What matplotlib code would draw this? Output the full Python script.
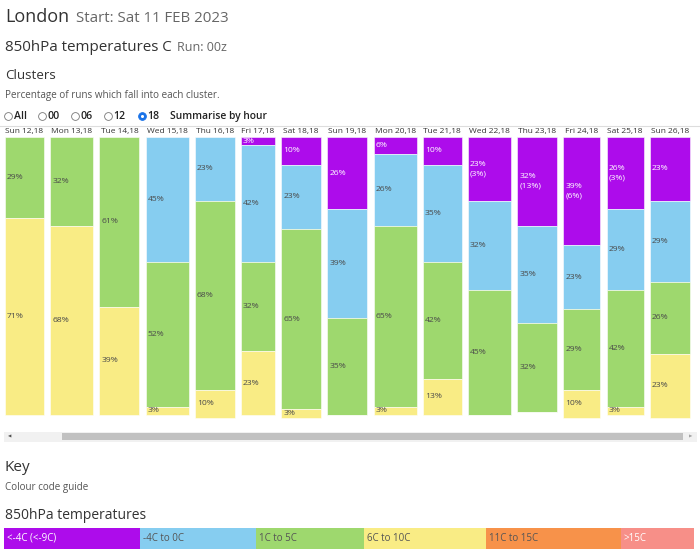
import numpy as np
import matplotlib.pyplot as plt
from matplotlib.patches import Rectangle
from matplotlib.lines import Line2D

plt.rcParams['font.family'] = ['Open Sans', 'DejaVu Sans']

# data
days = ["Sun 12,18", "Mon 13,18", "Tue 14,18", "Wed 15,18", "Thu 16,18",
        "Fri 17,18", "Sat 18,18", "Sun 19,18", "Mon 20,18", "Tue 21,18",
        "Wed 22,18", "Thu 23,18", "Fri 24,18", "Sat 25,18", "Sun 26,18"]
purple = [0, 0, 0, 0, 0, 3, 10, 26, 6, 10, 23, 32, 39, 26, 23]
purple_cold = [0, 0, 0, 0, 0, 0, 0, 0, 0, 0, 3, 13, 6, 3, 0]   # the (<-9C) share
blue = [0, 0, 0, 45, 23, 42, 23, 39, 26, 35, 32, 35, 23, 29, 29]
green = [29, 32, 61, 52, 68, 32, 65, 35, 65, 42, 45, 32, 29, 42, 26]
yellow = [71, 68, 39, 3, 10, 23, 3, 0, 3, 13, 0, 0, 10, 3, 23]

key_labels = ["<-4C (<-9C)", "-4C to 0C", "1C to 5C", "6C to 10C", "11C to 15C", ">15C"]
key_colors = ["#ad0ceb", "#86cdf0", "#9ed86e", "#f9ec85", "#f7924a", "#f78f88"]
key_text = ["white", "#555555", "#555555", "#555555", "#555555", "white"]

# layout (pixels)
W, H = 700, 555
col_widths = [39, 43, 40, 43, 40, 34, 40, 40, 43, 39, 43, 40, 37, 37, 40]
col_gap = 6.2
key_widths = [136, 116, 108, 122, 135, 73]
px_per_pct = 2.78
bar_top = 137


def fx(x):
    return x / W


def fy(y):
    return 1 - y / H


fig = plt.figure(figsize=(7, 5.55), dpi=100)


def label(x, y, s, size, color="#333333", **kw):
    fig.text(fx(x), fy(y), s, fontsize=size, color=color, va="baseline", ha="left", **kw)


# header
label(5, 22, "London", 13)
label(76, 22, "Start: Sat 11 FEB 2023", 10.8, color="#666666")
label(5, 51, "850hPa temperatures C", 10.9)
label(177, 51, "Run: 00z", 9, color="#666666")
label(5, 79, "Clusters", 9.6)
label(5, 98, "Percentage of runs which fall into each cluster.", 7.1, color="#555555")

# radio buttons
radios = ["All", "00", "06", "12", "18"]
radio_x = [8, 42, 75, 108, 142]
for r, x in zip(radios, radio_x):
    sel = r == "18"
    fig.add_artist(Line2D([fx(x)], [fy(116)], marker="o", markersize=5.6,
                          markerfacecolor="#1a73e8" if sel else "white",
                          markeredgecolor="#1a73e8" if sel else "#777777",
                          markeredgewidth=0.6, linestyle="none"))
    if sel:
        fig.add_artist(Line2D([fx(x)], [fy(116)], marker="o", markersize=2.2,
                              markerfacecolor="white", markeredgecolor="none",
                              linestyle="none"))
    label(x + 5.5, 119, r, 7.6, color="#222222", fontweight="semibold")
label(170, 119, "Summarise by hour", 7.4, color="#222222", fontweight="semibold")

fig.add_artist(Line2D([fx(0), fx(700)], [fy(126), fy(126)], color="#dddddd", lw=0.8,
                      zorder=-1))

# bar chart
bottom_px = 425
ax = fig.add_axes([0, fy(bottom_px), 1, (bottom_px - bar_top) / H])
ax.set_xlim(0, W)
ax.set_ylim((bottom_px - bar_top) / px_per_pct, 0)
ax.axis("off")

widths = np.array(col_widths, dtype=float)
lefts = 5 + np.concatenate([[0], np.cumsum(widths[:-1] + col_gap)])

series = [(purple, key_colors[0], "white"),
          (blue, key_colors[1], "#4a4a4a"),
          (green, key_colors[2], "#4a4a4a"),
          (yellow, key_colors[3], "#4a4a4a")]

start = np.zeros(len(days))
for vals, col, tcol in series:
    vals = np.array(vals, dtype=float)
    ax.bar(lefts, vals, width=widths, bottom=start, align="edge", color=col,
           edgecolor=(1, 1, 1, 0.55), linewidth=0.7)
    for i, v in enumerate(vals):
        if v <= 0:
            continue
        txt = f"{int(v)}%"
        if col == key_colors[0] and purple_cold[i] > 0:
            txt += f"\n({purple_cold[i]}%)"
        ax.text(lefts[i] + 2, start[i] + v / 2, txt, fontsize=6.1, color=tcol,
                va="center", ha="left", linespacing=1.5)
    start += vals

for i, d in enumerate(days):
    ax.text(lefts[i] + widths[i] / 2, -2.0, d, fontsize=6.0, color="#333333",
            ha="center", va="center", clip_on=False)

# scrollbar
fig.add_artist(Rectangle((fx(4), fy(442)), fx(693), 10 / H, transform=fig.transFigure,
                         facecolor="#f1f1f1", edgecolor="none"))
fig.add_artist(Rectangle((fx(62), fy(440)), fx(621), 7 / H, transform=fig.transFigure,
                         facecolor="#c1c1c1", edgecolor="none"))
fig.text(fx(10), fy(437), "\u25c0", fontsize=3.2, color="#505050", ha="center", va="center",
         family="DejaVu Sans")
fig.text(fx(691), fy(437), "\u25b6", fontsize=3.2, color="#a3a3a3", ha="center", va="center",
         family="DejaVu Sans")

# key
label(5, 471, "Key", 11)
label(5, 490, "Colour code guide", 7.1, color="#555555")
label(5, 519, "850hPa temperatures", 10)

kax = fig.add_axes([0, fy(549), 1, 21 / H])
kax.set_xlim(0, W)
kax.set_ylim(0, 1)
kax.axis("off")
kw = np.array(key_widths, dtype=float)
klefts = 4 + np.concatenate([[0], np.cumsum(kw[:-1])])
kax.barh(0.5, kw, left=klefts, height=1, color=key_colors, edgecolor="none")
for l, s, tc in zip(klefts, key_labels, key_text):
    kax.text(l + 3, 0.5, s, fontsize=7, color=tc, va="center", ha="left")

fig.savefig("out.png", dpi=100, facecolor="white")
